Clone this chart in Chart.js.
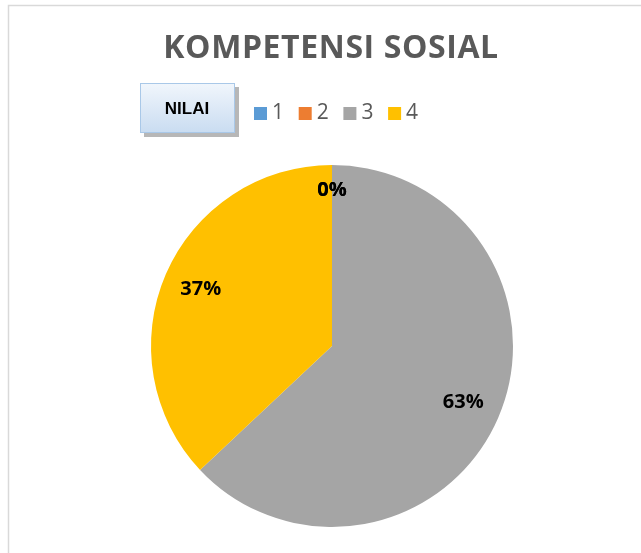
<!DOCTYPE html>
<html>
<head>
<meta charset="utf-8">
<script src="https://cdn.jsdelivr.net/npm/chart.js@4/dist/chart.umd.min.js"></script>
<style>
  html, body { margin: 0; padding: 0; background: #fff; }
  #wrap { width: 641px; height: 553px; }
</style>
</head>
<body>
<div id="wrap"><canvas id="myChart" width="641" height="553"></canvas></div>
<script>
// data
const chartTitle = "KOMPETENSI SOSIAL";
const legendTitle = "NILAI";
const labels = ["1", "2", "3", "4"];
const values = [0, 0, 63, 37];
const colors = ["#5B9BD5", "#ED7D31", "#A5A5A5", "#FFC000"];

// draws frame, title, legend box and percent labels
const decorPlugin = {
  id: "decor",
  afterDraw(chart) {
    const ctx = chart.ctx;
    ctx.save();

    // frame of the chart area (only top and left are visible)
    ctx.strokeStyle = "#d9d9d9";
    ctx.lineWidth = 1.5;
    ctx.beginPath();
    ctx.moveTo(8.5, 553);
    ctx.lineTo(8.5, 5.5);
    ctx.lineTo(641, 5.5);
    ctx.stroke();

    // title
    ctx.fillStyle = "#595959";
    ctx.font = "bold 32px 'Open Sans'";
    ctx.textAlign = "center";
    ctx.textBaseline = "middle";
    ctx.letterSpacing = "0.6px";
    ctx.fillText(chartTitle, 331, 49);
    ctx.letterSpacing = "0px";

    // legend title box with shadow
    ctx.fillStyle = "#b7b7b7";
    ctx.fillRect(144, 87, 95, 50);
    const grad = ctx.createLinearGradient(0, 83, 0, 133);
    grad.addColorStop(0, "#f1f6fc");
    grad.addColorStop(1, "#c9dcf1");
    ctx.fillStyle = grad;
    ctx.fillRect(140, 83, 95, 50);
    ctx.strokeStyle = "#a9c8e8";
    ctx.lineWidth = 1;
    ctx.strokeRect(140.5, 83.5, 94, 49);
    ctx.fillStyle = "#000";
    ctx.font = "bold 17px 'Liberation Sans'";
    ctx.fillText(legendTitle, 187, 109);

    // legend items
    ctx.font = "21px 'Open Sans'";
    ctx.textAlign = "left";
    labels.forEach((lab, i) => {
      const x = 254 + i * 44.7;
      ctx.fillStyle = colors[i];
      ctx.fillRect(x, 107, 13, 13);
      ctx.fillStyle = "#595959";
      ctx.fillText(lab, x + 18, 113);
    });

    // percent labels inside the slices
    const meta = chart.getDatasetMeta(0);
    const total = values.reduce((a, b) => a + b, 0);
    ctx.fillStyle = "#000";
    ctx.font = "bold 20px 'Open Sans'";
    ctx.textAlign = "center";
    meta.data.forEach((arc, i) => {
      const mid = (arc.startAngle + arc.endAngle) / 2;
      const r = values[i] === 0 ? arc.outerRadius * 0.86 : arc.outerRadius * 0.79;
      const x = arc.x + Math.cos(mid) * r;
      const y = arc.y + Math.sin(mid) * r;
      const pct = Math.round(values[i] / total * 100) + "%";
      ctx.fillText(pct, x, y);
    });

    ctx.restore();
  }
};

const config = {
  type: "pie",
  data: {
    labels: labels,
    datasets: [
      {
        data: values,
        backgroundColor: colors,
        borderWidth: 0,
      },
    ],
  },
  options: {
    responsive: false,
    animation: false,
    layout: {
      padding: { top: 165, bottom: 26, left: 151, right: 128 },
    },
    plugins: {
      legend: { display: false },
      title: { display: false },
      tooltip: { enabled: false },
    },
  },
  plugins: [decorPlugin],
};

new Chart(document.getElementById("myChart"), config);
</script>
</body>
</html>
